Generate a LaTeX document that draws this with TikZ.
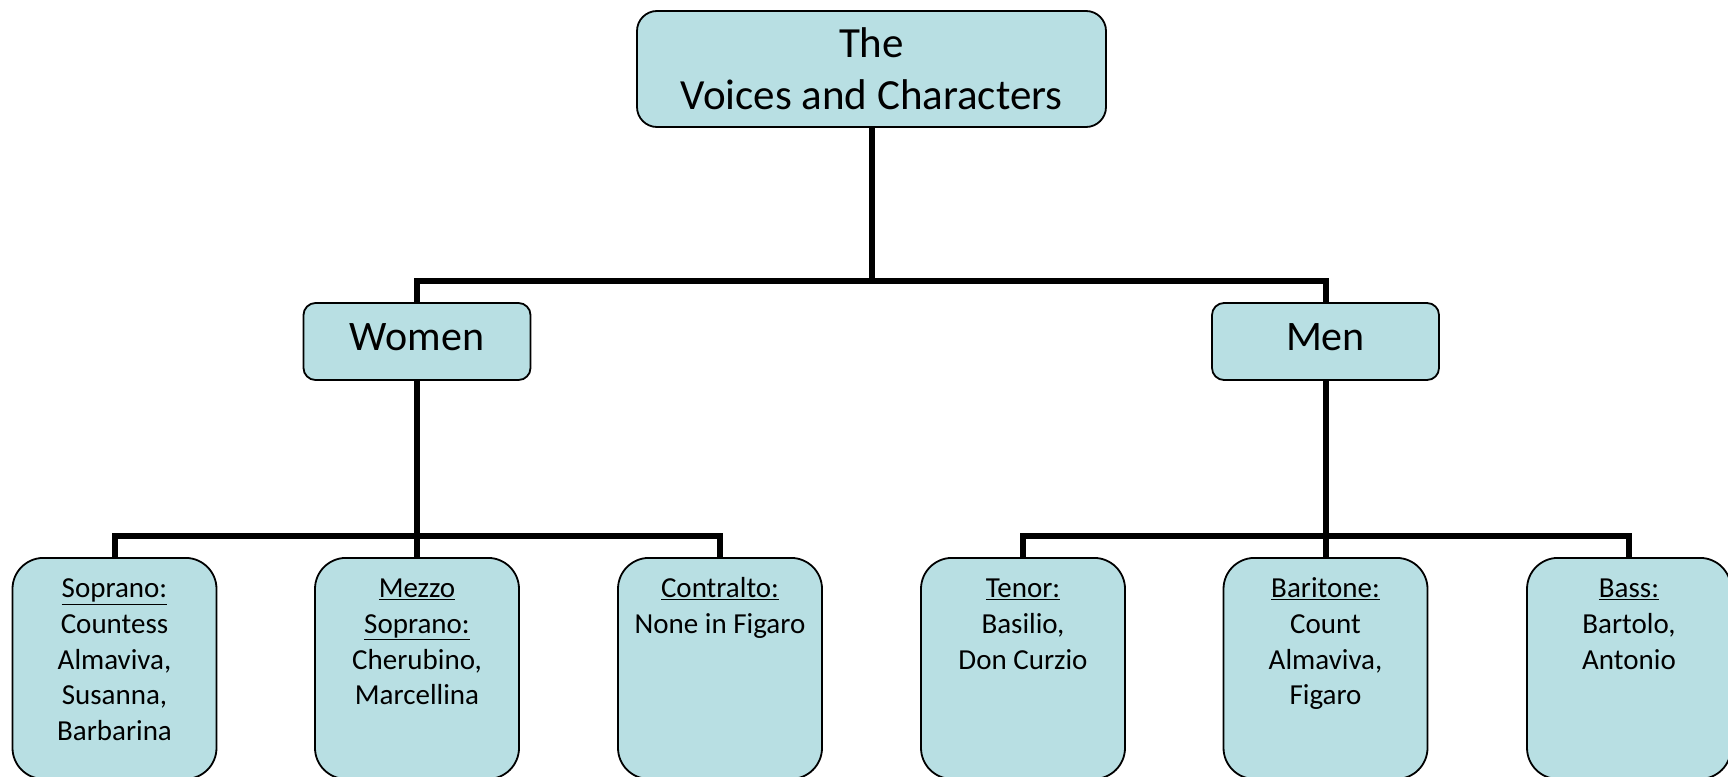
\documentclass[tikz,border=0pt]{standalone}
\usepackage{fontspec}
\setmainfont{Carlito}
\definecolor{boxfill}{RGB}{184,223,227}
\begin{document}
\begin{tikzpicture}[x=1pt,y=1pt,
  conn/.style={line width=6pt,black},
  topbox/.style={draw=black,line width=1.8pt,fill=boxfill,rounded corners=20pt,
    minimum width=469pt,minimum height=116pt,align=center,inner sep=0pt,
    font=\fontsize{43}{52}\selectfont},
  midbox/.style={draw=black,line width=1.8pt,fill=boxfill,rounded corners=12pt,
    minimum width=227pt,minimum height=77pt,inner sep=0pt,text depth=9pt,
    font=\fontsize{42}{52}\selectfont},
  leafbox/.style={draw=black,line width=1.8pt,fill=boxfill,rounded corners=31pt,
    inner sep=0pt,anchor=north,font=\fontsize{29}{35.6}\selectfont}
]
\useasboundingbox (0,0) rectangle (1728,-776);
\clip (0,0) rectangle (1728,-776);
\newcommand{\leaftext}[1]{\parbox[t][221pt][t]{204pt}{\centering\vspace*{15pt}#1}}

\node[topbox] (top) at (871.5,-69) {The\\Voices and Characters};
\node[midbox] (women) at (417,-341.5) {Women};
\node[midbox] (men) at (1325.5,-341.5) {Men};

\node[leafbox] (w1) at (114.5,-557) {\leaftext{\strut\underline{Soprano:}\\Countess\\Almaviva,\\Susanna,\\Barbarina}};
\node[leafbox] (w2) at (417,-557) {\leaftext{\strut\underline{Mezzo}\\\underline{Soprano:}\\Cherubino,\\Marcellina}};
\node[leafbox] (w3) at (720,-557) {\leaftext{\strut\underline{Contralto:}\\None in Figaro}};
\node[leafbox] (m1) at (1023,-557) {\leaftext{\strut\underline{Tenor:}\\Basilio,\\Don Curzio}};
\node[leafbox] (m2) at (1325.5,-557) {\leaftext{\strut\underline{Baritone:}\\Count\\Almaviva,\\Figaro}};
\node[leafbox] (m3) at (1629,-557) {\leaftext{\strut\underline{Bass:}\\Bartolo,\\Antonio}};

\coordinate (j1) at (871.5,-281);
\coordinate (jw) at (417,-535.5);
\coordinate (jm) at (1325.5,-535.5);

\draw[conn] (top.south) -- (j1);
\draw[conn] (women.north) |- (j1) -| (men.north);
\draw[conn] (women.south) -- (w2.north);
\draw[conn] (w1.north) |- (jw) -| (w3.north);
\draw[conn] (men.south) -- (m2.north);
\draw[conn] (m1.north) |- (jm) -| (m3.north);
\end{tikzpicture}
\end{document}
